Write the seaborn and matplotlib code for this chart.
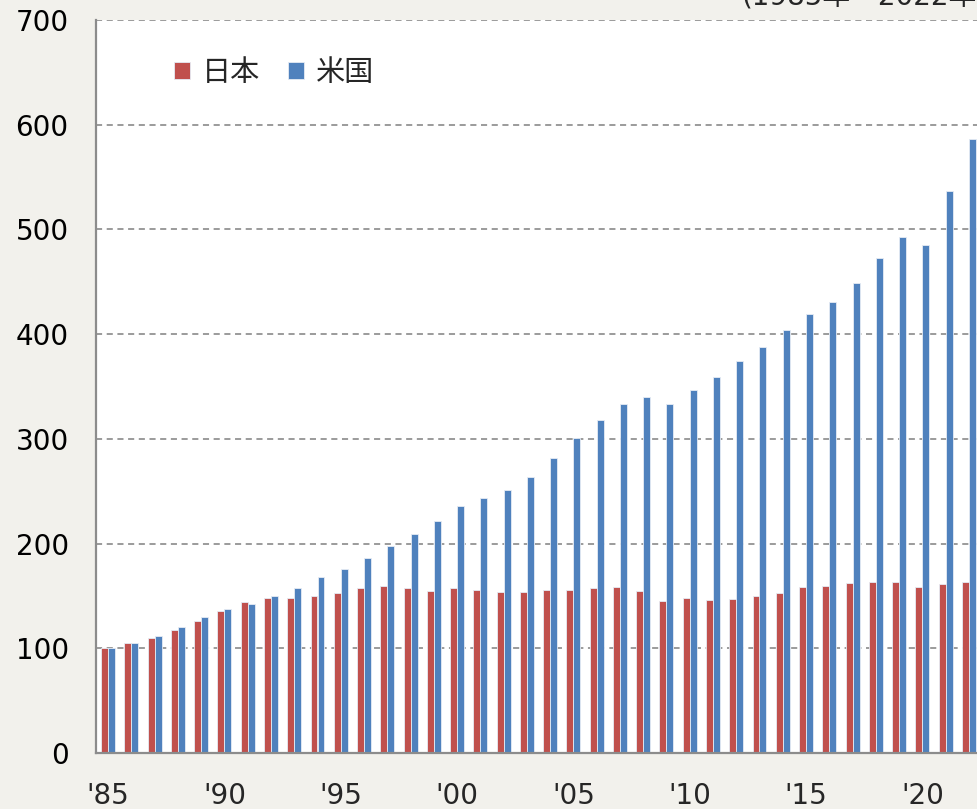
import pandas as pd
import seaborn as sns
import matplotlib.pyplot as plt
from matplotlib.ticker import FixedLocator

# データ (1985年=100)
years = list(range(1985, 2023))
japan = [100, 104.8, 109.5, 117.5, 126, 135.9, 144.2, 148, 148, 150,
         152.8, 157.3, 159.8, 157.3, 154.7, 157.3, 156, 153.5, 153.5, 155.4,
         156, 157.3, 158.5, 154.7, 145.2, 148, 145.8, 147, 149.6, 152.5,
         158.2, 159.8, 162.4, 163.6, 163.6, 158.2, 161.1, 163.6]
usa = [100, 105.4, 112, 120.3, 129.6, 137.2, 142.3, 150, 158, 167.8,
       175.7, 186.2, 197.7, 208.9, 221.6, 236.2, 243.6, 251.5, 263.6, 281.4,
       300.6, 318, 333.3, 340, 333.3, 346.7, 359.1, 374.4, 387.8, 404.3,
       419, 430.8, 448.6, 473.1, 492.5, 485.2, 537.1, 586.4]
series_names = ['日本', '米国']
year_labels = ["'85", "'90", "'95", "'00", "'05", "'10", "'15", "'20"]
y_ticks = [0, 100, 200, 300, 400, 500, 600, 700]

df = pd.DataFrame({
    'year': years * 2,
    'value': japan + usa,
    'country': [series_names[0]] * len(years) + [series_names[1]] * len(years),
})

sns.set_style('white')
plt.rcParams['font.family'] = ['DejaVu Sans', 'Noto Sans CJK JP']

bg = '#F2F1EC'
fig = plt.figure(figsize=(9.78, 8.09), dpi=100, facecolor=bg)
ax = fig.add_axes([96.5 / 978, 56 / 809, 884 / 978, 733 / 809])
ax.set_facecolor('white')

sns.barplot(data=df, x='year', y='value', hue='country',
            palette=['#C0504D', '#4F81BD'], saturation=1, width=0.6,
            linewidth=0.6, edgecolor='#E6ECF4', ax=ax)

ax.set_xlim(-0.5, len(years) - 0.5)
ax.set_ylim(0, 700)
ax.set_xlabel('')
ax.set_ylabel('')

# 目盛り
ax.set_yticks(y_ticks)
ax.set_yticklabels([str(v) for v in y_ticks])
ax.tick_params(axis='y', length=0, pad=20, labelsize=20, labelcolor='black')
ax.set_xticks(list(range(0, len(years), 5)))
ax.set_xticklabels(year_labels)
ax.tick_params(axis='x', which='major', length=0, pad=21, labelsize=20)
ax.xaxis.set_minor_locator(FixedLocator([i - 0.5 for i in range(5, len(years), 5)]))
ax.tick_params(axis='x', which='minor', direction='in', length=7,
               width=1.5, color='#8C8C8C')

ax.yaxis.grid(True, color='#808080', linestyle=(0, (4, 3)), linewidth=1.1)
ax.set_axisbelow(True)
for side in ['top', 'right']:
    ax.spines[side].set_visible(False)
for side in ['left', 'bottom']:
    ax.spines[side].set_color('#8C8C8C')
    ax.spines[side].set_linewidth(1.6)

handles, labels = ax.get_legend_handles_labels()
ax.legend(handles, labels, loc='center left', bbox_to_anchor=(0.058, 0.928),
          ncol=2, frameon=False, fontsize=21, handlelength=0.56,
          handleheight=0.56, handletextpad=0.4, columnspacing=0.95)

fig.text(742 / 978, 1 - 4 / 809, '(1985年～2022年)', fontsize=20,
         ha='left', va='baseline')

fig.savefig('out.png', dpi=100, facecolor=bg)
